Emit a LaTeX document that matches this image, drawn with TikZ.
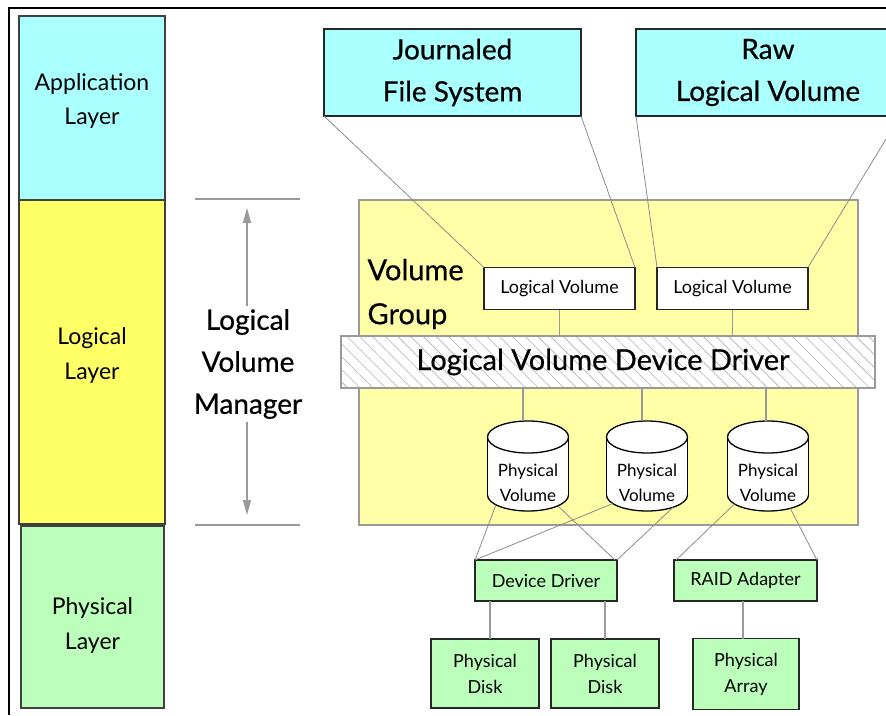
\documentclass[tikz,border=0pt]{standalone}
\usepackage{fontspec}
\setmainfont{Lato}
\newfontfamily\heavyfont{Lato}[FakeBold=0.5]
\usetikzlibrary{shapes.geometric,patterns.meta,arrows.meta,calc}
\definecolor{cyanbox}{HTML}{AAFFFF}
\definecolor{yellowbox}{HTML}{FFFF66}
\definecolor{vgyellow}{HTML}{FFFFA8}
\definecolor{greenbox}{HTML}{BBFFBB}
\definecolor{linegray}{HTML}{8C8C8C}
\definecolor{bordergray}{HTML}{9A9A9A}
\begin{document}
\begin{tikzpicture}[x=1pt,y=-1pt,
  box/.style={draw=black!85, line width=1.3pt, inner sep=0pt, outer sep=0pt},
  layerbox/.style={box, draw=black!75},
  layertext/.style={font=\fontsize{23}{35}\selectfont, align=center},
  bigtext/.style={font=\heavyfont\fontsize{28}{42}\selectfont, align=center},
  lvbox/.style={box, fill=white, minimum width=151pt, minimum height=42pt, font=\fontsize{18}{20}\selectfont},
  greenbox/.style={box, fill=greenbox, font=\fontsize{18}{26}\selectfont, align=center},
  cyltext/.style={font=\fontsize{17}{25}\selectfont, align=center},
  conn/.style={draw=linegray, line width=0.8pt},
  stem/.style={draw=bordergray, line width=1.2pt},
  lvmline/.style={draw=bordergray, line width=1.3pt},
  lvmarrow/.style={draw=bordergray, line width=1.3pt, -{Triangle[length=15pt,width=8pt]}},
  pvcyl/.pic={
    \fill[white] (-40.5,-29) rectangle (40.5,29);
    \fill[white] (0,-29) ellipse [x radius=40.5, y radius=16];
    \fill[white] (0,29) ellipse [x radius=40.5, y radius=16];
    \draw[line width=1.3pt] (0,-29) ellipse [x radius=40.5, y radius=16];
    \draw[line width=1.3pt] (-40.5,-29) -- (-40.5,29);
    \draw[line width=1.3pt] (40.5,-29) -- (40.5,29);
    \begin{scope}
      \clip (-46,29) rectangle (46,52);
      \draw[line width=1.3pt] (0,29) ellipse [x radius=40.5, y radius=16];
    \end{scope}
    \node[ellipse, inner sep=0pt, outer sep=0pt, minimum width=81pt, minimum height=32pt] (-top) at (0,-29) {};
    \node[ellipse, inner sep=0pt, outer sep=0pt, minimum width=81pt, minimum height=32pt] (-bot) at (0,29) {};
    \node[cyltext] (-text) at (0,17) {Physical\\Volume};
  }
]
\useasboundingbox (0,0) rectangle (886,715);
\fill[white] (0,0) rectangle (886,715);

% frame
\coordinate (ftl) at (9,8);
\coordinate (ftr) at (886,8);
\coordinate (fbl) at (9,715);
\draw[line width=1.6pt] (fbl) -- (ftl) -- (ftr);

% layer column
\node[layerbox, fill=cyanbox, minimum width=146pt, minimum height=184pt] (app) at (92,108) {};
\node[layertext] (appt) at (92,101) {Application\\Layer};
\node[layerbox, fill=yellowbox, minimum width=146pt, minimum height=324pt] (logl) at (92,362) {};
\node[layertext] (loglt) at (92,355) {Logical\\Layer};
\node[layerbox, fill=greenbox, minimum width=143pt, minimum height=182pt] (phys) at (92.5,617) {};
\node[layertext] (physt) at (92.5,625) {Physical\\Layer};

% LVM bracket
\coordinate (lvmt1) at (195,199);
\coordinate (lvmt2) at (300,199);
\coordinate (lvmb1) at (195,525);
\coordinate (lvmb2) at (300,525);
\draw[lvmline] (lvmt1) -- (lvmt2);
\draw[lvmline] (lvmb1) -- (lvmb2);
\node[bigtext] (lvm) at (248,364) {Logical\\Volume\\Manager};
\coordinate (lvmup) at (247,208);
\coordinate (lvmdown) at (247,515);
\draw[lvmarrow] (lvm.north -| lvmup) -- (lvmup);
\draw[lvmarrow] (lvm.south -| lvmdown) -- (lvmdown);

% volume group
\node[draw=bordergray, line width=1.2pt, fill=vgyellow, minimum width=499pt, minimum height=325pt, inner sep=0pt, outer sep=0pt] (vg) at (608.5,362.5) {};
\node[align=left, anchor=west, font=\heavyfont\fontsize{29}{44}\selectfont] (vgt) at (364,294) {Volume\\Group};

% top boxes
\node[box, fill=cyanbox, minimum width=257pt, minimum height=87pt, bigtext] (jfs) at (452.5,72.5) {Journaled\\File System};
\node[box, fill=cyanbox, minimum width=264pt, minimum height=87pt, bigtext] (raw) at (768,72.5) {Raw\\Logical Volume};

% logical volumes
\node[lvbox] (lv1) at (559.5,288.5) {Logical Volume};
\node[lvbox] (lv2) at (732.5,288.5) {Logical Volume};

% device driver bar
\node[draw=bordergray, line width=1.2pt, minimum width=534pt, minimum height=52pt, inner sep=0pt, outer sep=0pt,
  preaction={fill=white}, pattern={Lines[angle=-45,distance=9pt,line width=0.6pt]}, pattern color=black!30] (bar) at (608,362) {};
\node[font=\heavyfont\fontsize{29}{30}\selectfont] (bart) at (603,362) {Logical Volume Device Driver};

% physical volumes
\pic (pv1) at (528,466) {pvcyl};
\pic (pv2) at (647,466) {pvcyl};
\pic (pv3) at (768,466) {pvcyl};

% physical layer boxes
\node[greenbox, minimum width=142pt, minimum height=41pt] (dd) at (546,580.5) {Device Driver};
\node[greenbox, minimum width=143pt, minimum height=41pt] (raid) at (745.5,580.5) {RAID Adapter};
\node[greenbox, minimum width=108pt, minimum height=69pt] (d1) at (485,673.5) {Physical\\Disk};
\node[greenbox, minimum width=108pt, minimum height=69pt] (d2) at (605,673.5) {Physical\\Disk};
\node[greenbox, minimum width=106pt, minimum height=71pt] (arr) at (746,674) {Physical\\Array};

% connectors: top boxes to logical volumes
\draw[conn] (jfs.south west) -- (lv1.north west);
\draw[conn] (jfs.south east) -- (lv1.north east);
\draw[conn] (raw.south west) -- (lv2.north west);
\draw[conn] (raw.south east) -- (lv2.north east);

% logical volumes to bar
\draw[stem] (lv1.south) -- (lv1.south |- bar.north);
\draw[stem] (lv2.south) -- (lv2.south |- bar.north);

% bar to physical volumes
\draw[stem] ([xshift=-5pt]pv1-top.north) -- ([xshift=-5pt]pv1-top.north |- bar.south);
\draw[stem] ([xshift=-5pt]pv2-top.north) -- ([xshift=-5pt]pv2-top.north |- bar.south);
\draw[stem] ([xshift=-2pt]pv3-top.north) -- ([xshift=-2pt]pv3-top.north |- bar.south);

% physical volumes to adapters
\draw[conn] (pv1-bot.197) -- (dd.north west);
\draw[conn] (pv1-bot.340) -- ([xshift=-2pt]dd.north east);
\draw[conn] (pv2-bot.194) -- (dd.north west);
\draw[conn] (pv2-bot.335) -- (dd.north east);
\draw[conn] (pv3-bot.195) -- ([xshift=2pt]raid.north west);
\draw[conn] (pv3-bot.329) -- (raid.north east);

% adapters to disks
\draw[stem] ([xshift=5pt]d1.north) -- ([xshift=5pt]d1.north |- dd.south);
\draw[stem] (d2.north) -- (d2.north |- dd.south);
\draw[stem] ([xshift=-3pt]arr.north) -- ([xshift=-3pt]arr.north |- raid.south);
\end{tikzpicture}
\end{document}
